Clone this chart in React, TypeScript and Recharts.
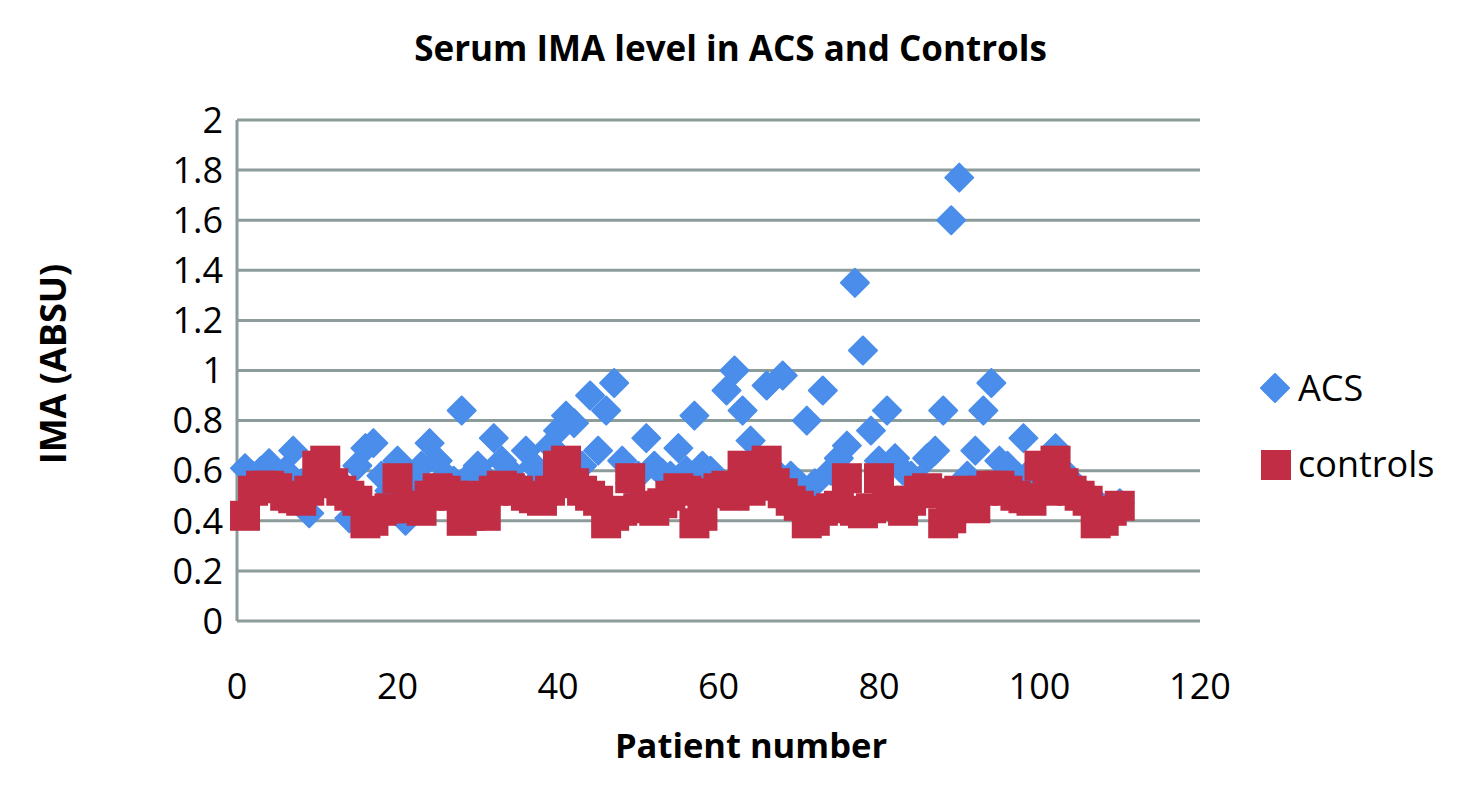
import React from 'react';
import { ScatterChart, Scatter, XAxis, YAxis, CartesianGrid } from 'recharts';

const patients = Array.from({ length: 110 }, (_, i) => i + 1);

const acsValues = [
  0.61, 0.58, 0.60, 0.63, 0.58, 0.60, 0.68, 0.55, 0.43, 0.58,
  0.62, 0.57, 0.55, 0.41, 0.62, 0.69, 0.71, 0.58, 0.52, 0.64,
  0.40, 0.55, 0.62, 0.71, 0.64, 0.58, 0.56, 0.84, 0.58, 0.62,
  0.57, 0.73, 0.64, 0.60, 0.55, 0.68, 0.62, 0.58, 0.70, 0.76,
  0.82, 0.79, 0.62, 0.90, 0.68, 0.84, 0.95, 0.64, 0.55, 0.58,
  0.73, 0.62, 0.59, 0.58, 0.69, 0.60, 0.82, 0.62, 0.60, 0.55,
  0.92, 1.00, 0.84, 0.72, 0.62, 0.94, 0.60, 0.98, 0.58, 0.55,
  0.80, 0.55, 0.92, 0.60, 0.65, 0.70, 1.35, 1.08, 0.76, 0.64,
  0.84, 0.65, 0.60, 0.58, 0.56, 0.65, 0.68, 0.84, 1.60, 1.77,
  0.58, 0.68, 0.84, 0.95, 0.64, 0.62, 0.58, 0.73, 0.60, 0.58,
  0.62, 0.69, 0.60, 0.56, 0.52, 0.50, 0.48, 0.45, 0.46, 0.47,
];

const controlValues = [
  0.42, 0.52, 0.54, 0.54, 0.53, 0.50, 0.49, 0.48, 0.52, 0.62,
  0.64, 0.55, 0.52, 0.50, 0.48, 0.39, 0.40, 0.44, 0.45, 0.57,
  0.45, 0.46, 0.44, 0.50, 0.53, 0.52, 0.50, 0.40, 0.42, 0.50,
  0.42, 0.52, 0.54, 0.53, 0.52, 0.50, 0.49, 0.48, 0.52, 0.62,
  0.64, 0.55, 0.52, 0.50, 0.48, 0.39, 0.42, 0.44, 0.57, 0.45,
  0.46, 0.44, 0.47, 0.50, 0.53, 0.52, 0.39, 0.42, 0.51, 0.53,
  0.54, 0.50, 0.62, 0.52, 0.54, 0.64, 0.55, 0.51, 0.48, 0.46,
  0.39, 0.40, 0.44, 0.45, 0.46, 0.57, 0.44, 0.43, 0.45, 0.57,
  0.48, 0.46, 0.44, 0.48, 0.52, 0.53, 0.51, 0.39, 0.41, 0.52,
  0.47, 0.45, 0.52, 0.54, 0.54, 0.52, 0.50, 0.49, 0.48, 0.62,
  0.52, 0.64, 0.55, 0.52, 0.50, 0.48, 0.39, 0.40, 0.44, 0.46,
];

const xTicks = [0, 20, 40, 60, 80, 100, 120];
const yTicks = [0, 0.2, 0.4, 0.6, 0.8, 1, 1.2, 1.4, 1.6, 1.8, 2];

const acsData = patients.map((p, i) => ({ x: p, y: acsValues[i] }));
const controlData = patients.map((p, i) => ({ x: p, y: controlValues[i] }));

const BLUE = '#4A8DEB';
const RED = '#C12D45';
const GRID = '#8C9C9A';
const FONT = '"Open Sans", "Liberation Sans", sans-serif';

const Diamond = (props: any) => {
  const { cx, cy } = props;
  const r = 14;
  return (
    <polygon
      points={`${cx},${cy - r} ${cx + r},${cy} ${cx},${cy + r} ${cx - r},${cy}`}
      fill={BLUE}
      stroke={BLUE}
      strokeWidth={2}
      strokeLinejoin="round"
    />
  );
};

const Square = (props: any) => {
  const { cx, cy } = props;
  return <rect x={cx - 15} y={cy - 15} width={30} height={30} fill={RED} />;
};

export default function App() {
  return (
    <div style={{ position: 'absolute', left: 0, top: 0, width: 1461, height: 795, background: '#fff', fontFamily: FONT }}>
      <ScatterChart width={1461} height={795} margin={{ top: 120, right: 261, bottom: 74, left: 177 }}>
        <CartesianGrid horizontal vertical={false} stroke={GRID} strokeWidth={3} />
        <XAxis
          type="number"
          dataKey="x"
          domain={[0, 120]}
          ticks={xTicks}
          height={100}
          axisLine={false}
          tickLine={false}
          tickSize={0}
          tickMargin={52}
          tick={{ fill: '#000', fontSize: 36, fontFamily: FONT }}
        />
        <YAxis
          type="number"
          dataKey="y"
          domain={[0, 2]}
          ticks={yTicks}
          width={60}
          axisLine={{ stroke: GRID, strokeWidth: 3 }}
          tickLine={false}
          tickSize={0}
          tickMargin={14}
          tick={{ fill: '#000', fontSize: 36, fontFamily: FONT }}
        />
        <Scatter data={acsData} shape={<Diamond />} isAnimationActive={false} />
        <Scatter data={controlData} shape={<Square />} isAnimationActive={false} />
      </ScatterChart>

      <div style={{ position: 'absolute', left: 0, width: 1461, top: 23, lineHeight: '50px', textAlign: 'center', fontSize: 35, fontWeight: 700, color: '#000' }}>
        Serum IMA level in ACS and Controls
      </div>
      <div style={{ position: 'absolute', left: 237, width: 1028, top: 720, lineHeight: '50px', textAlign: 'center', fontSize: 34.5, fontWeight: 700, color: '#000' }}>
        Patient number
      </div>
      <div
        style={{
          position: 'absolute',
          left: 52,
          top: 364,
          transform: 'translate(-50%, -50%) rotate(-90deg)',
          whiteSpace: 'nowrap',
          fontSize: 36,
          fontWeight: 700,
          color: '#000',
        }}
      >
        IMA (ABSU)
      </div>

      <div style={{ position: 'absolute', left: 1258, top: 363, display: 'flex', alignItems: 'center', fontSize: 36, color: '#000' }}>
        <svg width={34} height={34} style={{ marginRight: 6 }}>
          <polygon points="17,3 31,17 17,31 3,17" fill={BLUE} stroke={BLUE} strokeWidth={2} strokeLinejoin="round" />
        </svg>
        ACS
      </div>
      <div style={{ position: 'absolute', left: 1258, top: 439, display: 'flex', alignItems: 'center', fontSize: 36, color: '#000' }}>
        <svg width={34} height={34} style={{ marginRight: 6 }}>
          <rect x={3} y={3} width={30} height={30} fill={RED} />
        </svg>
        controls
      </div>
    </div>
  );
}
